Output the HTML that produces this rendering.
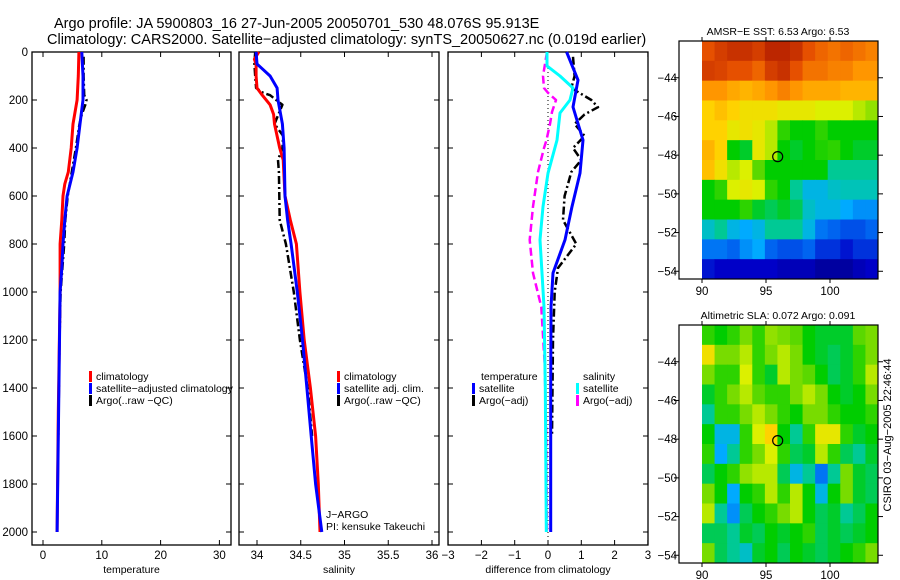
<!DOCTYPE html>
<html><head><meta charset="utf-8"><style>
body{margin:0;background:#fff;}
svg{display:block;font-family:"Liberation Sans",sans-serif;}
</style></head><body>
<svg id="c" width="900" height="580" viewBox="0 0 900 580"></svg>
<script>
// ---- data ----
const tClimDepth=[0,100,200,300,400,500,550,600,700,800,1000,1500,2000];
const tClimVal=[6.1,6.0,5.8,5.1,4.8,4.3,3.7,3.4,3.2,2.9,2.9,2.6,2.4];
const tSatDepth=[0,100,200,300,400,500,600,700,800,900,1000,1400,2000];
const tSatVal=[6.6,6.8,6.8,6.3,5.8,5.1,4.1,3.7,3.4,3.2,2.9,2.7,2.4];
const tArgoDepth=[20,100,180,200,220,260,300,400,500,600,700,800,900,1000,1200,1600];
const tArgoVal=[6.9,6.9,7.0,7.4,7.2,6.6,6.2,5.6,4.9,4.2,3.8,3.6,3.3,3.0,2.8,2.6];
const sClimDepth=[0,30,50,100,150,180,220,260,300,400,450,600,700,800,1000,1200,1400,1600,1800,2000];
const sClimVal=[34.02,33.97,33.99,33.99,34.0,34.06,34.15,34.19,34.2,34.26,34.3,34.32,34.38,34.45,34.49,34.54,34.61,34.67,34.7,34.72];
const sSatDepth=[0,50,70,100,150,200,300,400,600,700,800,1000,1200,1400,1600,1800,2000];
const sSatVal=[33.99,34.0,34.06,34.15,34.23,34.24,34.29,34.31,34.32,34.35,34.39,34.46,34.52,34.57,34.62,34.67,34.74];
const sArgoDepth=[0,50,100,150,170,180,200,220,300,350,400,450,500,700,800,1000,1200,1400,1600];
const sArgoVal=[33.98,33.97,33.98,33.99,34.07,34.15,34.22,34.29,34.2,34.3,34.29,34.24,34.25,34.26,34.33,34.42,34.49,34.58,34.63];
const dTSatDepth=[0,117,229,367,505,644,783,921,1062,1400,2000];
const dTSatVal=[0.56,0.9,0.75,1.05,0.96,0.72,0.51,0.15,0.09,0.08,0.08];
const dSSatDepth=[0,58,100,150,200,254,367,505,644,783,921,1062,1400,2000];
const dSSatVal=[-0.03,-0.03,0.36,0.75,0.66,0.36,0.27,0.0,-0.15,-0.24,-0.18,-0.12,-0.08,-0.05];
const dTArgoDepth=[20,100,150,200,230,260,300,350,400,450,500,550,600,700,800,900,1000,1200,1600];
const dTArgoVal=[0.75,0.8,0.7,1.3,1.5,1.1,0.8,1.1,0.75,1.0,0.7,0.6,0.5,0.45,0.85,0.3,0.2,0.15,0.12];
const dSArgoDepth=[0,58,100,150,170,200,250,300,370,400,500,644,783,921,1062,1300,1600,2000];
const dSArgoVal=[-0.03,-0.1,-0.15,-0.12,0.0,0.24,0.12,0.06,-0.05,-0.12,-0.3,-0.45,-0.55,-0.45,-0.2,-0.1,-0.05,-0.03];
const depthTicks=[0,200,400,600,800,1000,1200,1400,1600,1800,2000];
const tTicks=[0,10,20,30];
const sTicks=[34,34.5,35,35.5,36];
const dTicks=[-3,-2,-1,0,1,2,3];
const latTicks=[-44,-46,-48,-50,-52,-54];
const lonTicks=[90,95,100];
const sstGrid=[
[0.85,0.88,0.9,0.9,0.88,0.92,0.92,0.9,0.85,0.82,0.8,0.82,0.8,0.78],
[0.88,0.87,0.85,0.85,0.82,0.88,0.9,0.85,0.8,0.8,0.78,0.78,0.75,0.75],
[0.75,0.75,0.72,0.7,0.72,0.75,0.78,0.75,0.72,0.72,0.72,0.7,0.7,0.7],
[0.65,0.68,0.65,0.62,0.62,0.62,0.6,0.6,0.6,0.58,0.58,0.58,0.55,0.52],
[0.65,0.65,0.6,0.62,0.6,0.55,0.45,0.42,0.42,0.45,0.42,0.42,0.42,0.42],
[0.7,0.65,0.42,0.4,0.6,0.55,0.42,0.4,0.42,0.44,0.45,0.42,0.4,0.4],
[0.68,0.62,0.55,0.58,0.48,0.42,0.42,0.42,0.42,0.42,0.35,0.35,0.35,0.35],
[0.42,0.45,0.58,0.6,0.58,0.45,0.42,0.35,0.3,0.3,0.32,0.33,0.33,0.33],
[0.42,0.42,0.42,0.45,0.4,0.38,0.4,0.38,0.32,0.3,0.3,0.28,0.25,0.25],
[0.32,0.35,0.3,0.28,0.3,0.35,0.35,0.35,0.3,0.22,0.2,0.18,0.18,0.2],
[0.22,0.22,0.2,0.25,0.28,0.2,0.18,0.18,0.2,0.15,0.15,0.12,0.15,0.15],
[0.12,0.1,0.1,0.1,0.1,0.1,0.08,0.08,0.08,0.05,0.05,0.05,0.08,0.1]];
const slaGrid=[
[0.45,0.42,0.45,0.5,0.45,0.52,0.5,0.48,0.42,0.4,0.4,0.4,0.48,0.5],
[0.62,0.5,0.5,0.55,0.45,0.5,0.55,0.5,0.42,0.4,0.38,0.4,0.45,0.5],
[0.5,0.45,0.45,0.58,0.45,0.4,0.55,0.5,0.48,0.42,0.38,0.4,0.45,0.55],
[0.4,0.45,0.5,0.55,0.48,0.45,0.45,0.5,0.55,0.5,0.42,0.4,0.42,0.5],
[0.35,0.45,0.45,0.5,0.55,0.5,0.45,0.42,0.5,0.5,0.45,0.42,0.42,0.45],
[0.42,0.3,0.3,0.45,0.58,0.65,0.42,0.35,0.45,0.6,0.6,0.45,0.4,0.42],
[0.45,0.28,0.35,0.45,0.5,0.58,0.45,0.38,0.4,0.55,0.45,0.38,0.35,0.4],
[0.38,0.42,0.45,0.52,0.55,0.55,0.38,0.3,0.35,0.22,0.35,0.5,0.4,0.38],
[0.5,0.42,0.28,0.42,0.45,0.55,0.45,0.55,0.42,0.3,0.42,0.5,0.4,0.38],
[0.55,0.35,0.25,0.38,0.42,0.45,0.5,0.55,0.42,0.38,0.4,0.35,0.38,0.42],
[0.38,0.38,0.35,0.4,0.38,0.42,0.4,0.42,0.45,0.38,0.4,0.38,0.4,0.42],
[0.5,0.38,0.35,0.32,0.4,0.42,0.38,0.42,0.4,0.38,0.4,0.42,0.45,0.5]];
const argoLon=95.913, argoLat=-48.076;

// ---- drawing ----
const NS='http://www.w3.org/2000/svg';
const svg=document.getElementById('c');
function mk(tag,attrs,parent){const e=document.createElementNS(NS,tag);for(const k in attrs)e.setAttribute(k,attrs[k]);(parent||svg).appendChild(e);return e;}
function txt(s,x,y,size,anchor,parent,extra){const e=mk('text',Object.assign({x:x,y:y,'font-size':size,'text-anchor':anchor||'start',fill:'#000'},extra||{}),parent);e.textContent=s;return e;}
const yD=d=>52+0.24*d;
const PTOP=52,PBOT=545;
function panel(name,x0,x1,fx,ticks,lbl,xlabel){
  const g=mk('g',{});
  
  
  mk('rect',{x:x0,y:PTOP,width:x1-x0,height:PBOT-PTOP,fill:'none',stroke:'#000','stroke-width':1.3},g);
  ticks.forEach(t=>{const x=fx(t);
    mk('line',{x1:x,x2:x,y1:PTOP,y2:PTOP+5,stroke:'#000'},g);
    mk('line',{x1:x,x2:x,y1:PBOT,y2:PBOT-5,stroke:'#000'},g);
    const e=txt(lbl(t),x,559,11.5,'middle',g);
    });
  depthTicks.forEach(d=>{const y=yD(d);
    mk('line',{x1:x0,x2:x0+5,y1:y,y2:y,stroke:'#000'},g);
    mk('line',{x1:x1,x2:x1-5,y1:y,y2:y,stroke:'#000'},g);});
  const xl=txt(xlabel,(x0+x1)/2,573,10.5,'middle',g);
  
  return g;
}
function line(name,g,depths,vals,fx,color,w,dash){
  const pts=depths.map((d,i)=>fx(vals[i]).toFixed(1)+','+yD(d).toFixed(1)).join(' ');
  const p=mk('polyline',{points:pts,fill:'none',stroke:color,'stroke-width':w,'stroke-linejoin':'round'},g);
  if(dash)p.setAttribute('stroke-dasharray',dash);
  
  
}
function legend(g,x,y,items){
  items.forEach((it,i)=>{const yy=y+i*12;
    mk('rect',{x:x,y:yy-9,width:3,height:11,fill:it[1]},g);
    const e=txt(it[0],x+7,yy,10.5,'start',g);
    });
}
let t1=txt('Argo profile: JA 5900803_16 27-Jun-2005 20050701_530 48.076S 95.913E',54,28,14.5);

let t2=txt('Climatology: CARS2000. Satellite\u2212adjusted climatology: synTS_20050627.nc (0.019d earlier)',47,44,14.5);

depthTicks.forEach(d=>{const e=txt(String(d),28,yD(d)+4,11.5,'end');
  });

const fT=v=>43+5.88*v;
const g1=panel('temperature-panel',32,231,fT,tTicks,String,'temperature');
line('temp-argo',g1,tArgoDepth,tArgoVal,fT,'#000',2.5,'8,3,2,3');
line('temp-climatology',g1,tClimDepth,tClimVal,fT,'#f00',3);
line('temp-satellite',g1,tSatDepth,tSatVal,fT,'#00f',3);
legend(g1,89,380,[['climatology','#f00'],['satellite\u2212adjusted climatology','#00f'],['Argo(..raw \u2212QC)','#000']]);

const fS=v=>257+87.5*(v-34);
const g2=panel('salinity-panel',239,439,fS,sTicks,String,'salinity');
line('sal-argo',g2,sArgoDepth,sArgoVal,fS,'#000',2.5,'8,3,2,3');
line('sal-climatology',g2,sClimDepth,sClimVal,fS,'#f00',3);
line('sal-satellite',g2,sSatDepth,sSatVal,fS,'#00f',3);
legend(g2,337,380,[['climatology','#f00'],['satellite adj. clim.','#00f'],['Argo(..raw \u2212QC)','#000']]);
txt('J\u2212ARGO',326,518,10.5,'start',g2);
txt('PI: kensuke Takeuchi',326,530,10.5,'start',g2);

const fDd=v=>548+33.3*v;
const g3=panel('difference-panel',448,648,fDd,dTicks,t=>t<0?'\u2212'+(-t):String(t),'difference from climatology');
mk('line',{x1:fDd(0),x2:fDd(0),y1:PTOP,y2:PBOT,stroke:'#000','stroke-dasharray':'1,3'},g3);
line('diff-temp-argo',g3,dTArgoDepth,dTArgoVal,fDd,'#000',2.5,'8,3,2,3');
line('diff-sal-argo',g3,dSArgoDepth,dSArgoVal,fDd,'#f0f',2.5,'8,4');
line('diff-sal-satellite',g3,dSSatDepth,dSSatVal,fDd,'#0ff',3);
line('diff-temp-satellite',g3,dTSatDepth,dTSatVal,fDd,'#00f',3);
txt('temperature',481,380,10.5,'start',g3);
legend(g3,472,392,[['satellite','#00f'],['Argo(\u2212adj)','#000']]);
txt('salinity',583,380,10.5,'start',g3);
legend(g3,576,392,[['satellite','#0ff'],['Argo(\u2212adj)','#f0f']]);

// colormap (matches reference palette)
const CMAP=[[0,0,0,120],[0.1,0,0,200],[0.2,0,100,240],[0.28,0,170,255],[0.34,0,200,170],[0.42,0,205,0],[0.5,120,220,0],[0.58,220,240,0],[0.65,255,210,0],[0.75,255,150,0],[0.85,230,80,0],[0.95,170,20,0],[1,140,0,0]];
function cmap(v){v=Math.max(0,Math.min(1,v));
  for(let i=1;i<CMAP.length;i++){if(v<=CMAP[i][0]){const a=CMAP[i-1],b=CMAP[i],t=(v-a[0])/(b[0]-a[0]);
    return 'rgb('+[1,2,3].map(k=>Math.round(a[k]+(b[k]-a[k])*t)).join(',')+')';}}
  return 'rgb(140,0,0)';}
const LON0=90, PXLON=12.8, LAT0=-42.1, PXLAT=19.35;
function map(name,top,grid,title){
  const g=mk('g',{});
  
  
  const fx=lon=>702+(lon-LON0)*PXLON, fy=lat=>top+(LAT0-lat)*PXLAT;
  const rows=grid.length, cols=grid[0].length;
  const cw=(878-702)/cols, ch=(fy(-54.4)-top)/rows;
  grid.forEach((row,r)=>row.forEach((v,c)=>{
    const cell=mk('rect',{x:(702+c*cw).toFixed(2),y:(top+r*ch).toFixed(2),width:(cw+0.5).toFixed(2),height:(ch+0.5).toFixed(2),fill:cmap(v)},g);
    
    
  }));
  const bot=fy(-54.4);
  mk('rect',{x:679,y:top,width:199,height:bot-top,fill:'none',stroke:'#000','stroke-width':1.2},g);
  latTicks.forEach(l=>{const y=fy(l);
    mk('line',{x1:679,x2:674,y1:y,y2:y,stroke:'#000'},g);
    mk('line',{x1:878,x2:883,y1:y,y2:y,stroke:'#000'},g);
    txt('\u2212'+(-l),677,y+4,11.5,'end',g);});
  lonTicks.forEach(l=>{const x=fx(l);
    mk('line',{x1:x,x2:x,y1:top,y2:top-4,stroke:'#000'},g);
    mk('line',{x1:x,x2:x,y1:bot,y2:bot+4,stroke:'#000'},g);
    txt(String(l),x,bot+16,11.5,'middle',g);});
  const c=mk('circle',{cx:fx(argoLon),cy:fy(argoLat),r:5,fill:'none',stroke:'#000','stroke-width':1.2},g);
  
  
  const tt=txt(title,778,top-6,10.5,'middle',g);
  
}
map('sst-map',41,sstGrid,'AMSR\u2212E SST: 6.53 Argo: 6.53');
map('sla-map',325,slaGrid,'Altimetric SLA: 0.072 Argo: 0.091');
const cs=txt('CSIRO 03\u2212Aug\u22122005 22:46:44',0,0,11,'middle',null,{transform:'translate(891,435) rotate(-90)'});

</script>
</body></html>
